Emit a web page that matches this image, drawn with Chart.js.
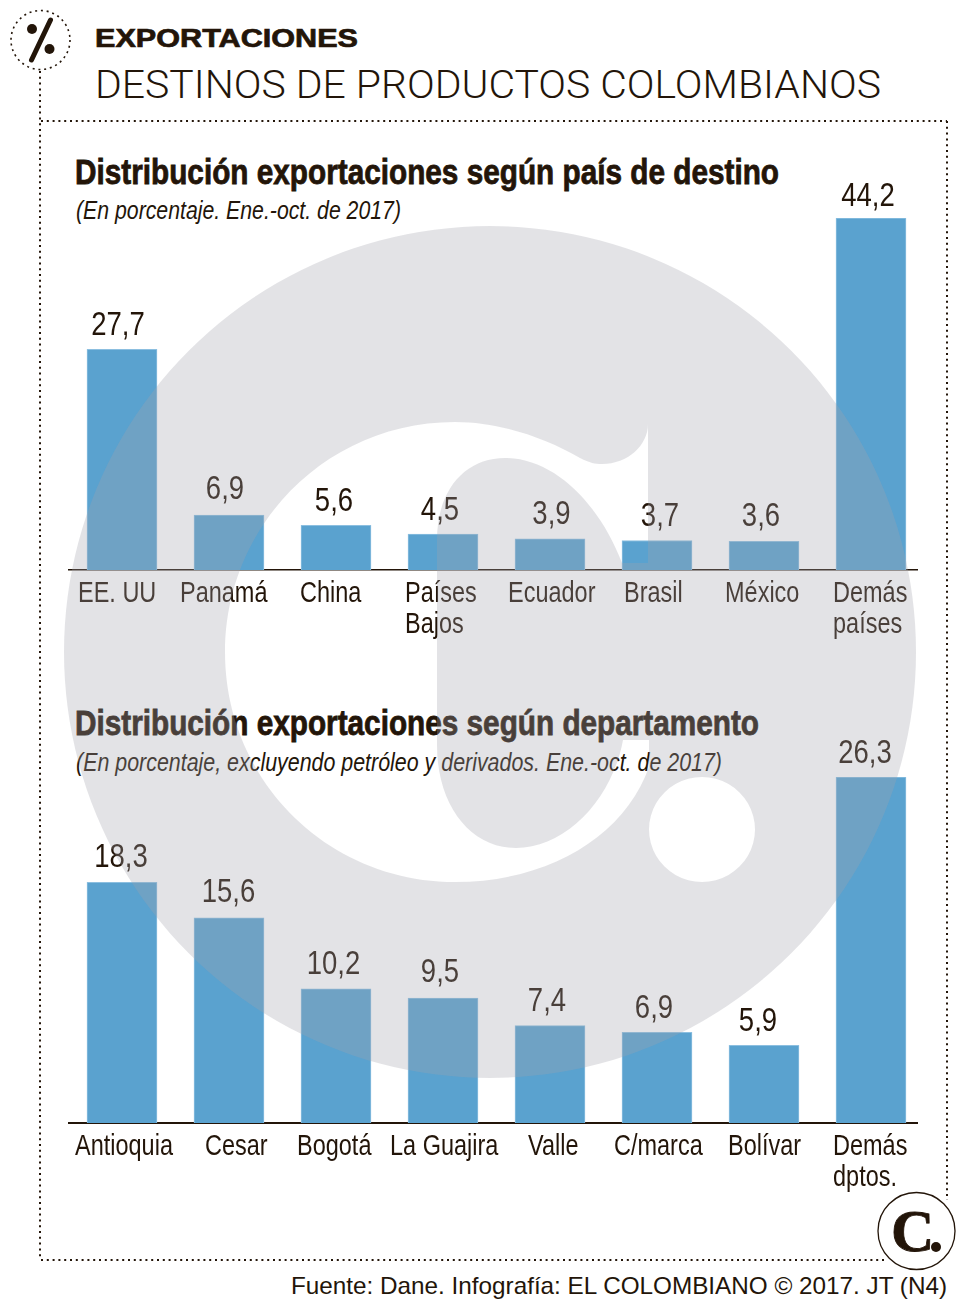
<!DOCTYPE html>
<html lang="es">
  <head>
    <meta charset="UTF-8" />
    <title>Exportaciones - Destinos de productos colombianos</title>
    <script src="https://cdn.jsdelivr.net/npm/chart.js"></script>
    <style>
      html, body { margin: 0; padding: 0; background: #fff; }
      #page { position: relative; width: 979px; height: 1305px; overflow: hidden; }
      #page svg { position: absolute; left: 0; top: 0; }
      #sello { pointer-events: none; }
      .caja { position: absolute; left: 68px; width: 850px; overflow: hidden; }
      .caja canvas { display: block; }
      #caja1 { top: 170px; height: 475px; }
      #caja2 { top: 729px; height: 469px; }
      text { fill: #231509; }
    </style>
  </head>
  <body>
    <div id="page">
      <svg id="marco" width="979" height="1305">
        <g fill="none" stroke="#231509" stroke-width="2" stroke-dasharray="2 3.8">
          <circle cx="40.5" cy="40" r="29.5" stroke-width="1.6" />
          <line x1="40" y1="71" x2="40" y2="1260" />
          <line x1="41" y1="121" x2="947" y2="121" />
          <line x1="947" y1="121" x2="947" y2="1200" />
          <line x1="41" y1="1260" x2="884" y2="1260" />
        </g>
        <line x1="50.5" y1="20" x2="31.5" y2="60" stroke="#231509" stroke-width="5" stroke-linecap="round" />
        <circle cx="32" cy="29" r="5" fill="#231509" />
        <circle cx="49.5" cy="49" r="5" fill="#231509" />

        <text x="95" y="47" font-family="Liberation Sans" font-weight="700" font-size="26" stroke="#231509" stroke-width="0.7" textLength="263" lengthAdjust="spacingAndGlyphs">EXPORTACIONES</text>
        <text x="95" y="98" font-family="Roboto" font-weight="300" font-size="38" textLength="786" lengthAdjust="spacingAndGlyphs">DESTINOS DE PRODUCTOS COLOMBIANOS</text>

        <text x="75" y="184" font-family="Liberation Sans" font-weight="700" font-size="35" stroke="#231509" stroke-width="0.8" textLength="704" lengthAdjust="spacingAndGlyphs">Distribución exportaciones según país de destino</text>
        <text x="76" y="219" font-family="Liberation Sans" font-style="italic" font-size="25" textLength="325" lengthAdjust="spacingAndGlyphs">(En porcentaje. Ene.-oct. de 2017)</text>

        <text x="75" y="735" font-family="Liberation Sans" font-weight="700" font-size="35" stroke="#231509" stroke-width="0.8" textLength="684" lengthAdjust="spacingAndGlyphs">Distribución exportaciones según departamento</text>
        <text x="76" y="771" font-family="Liberation Sans" font-style="italic" font-size="25" textLength="646" lengthAdjust="spacingAndGlyphs">(En porcentaje, excluyendo petróleo y derivados. Ene.-oct. de 2017)</text>

        <text x="291" y="1294" font-family="Liberation Sans" font-size="24" textLength="656" lengthAdjust="spacingAndGlyphs">Fuente: Dane. Infografía: EL COLOMBIANO © 2017. JT (N4)</text>

        <circle cx="916.5" cy="1231" r="38.5" fill="#fff" stroke="#231509" stroke-width="1.3" />
        <text x="891" y="1251" font-family="Liberation Serif" font-weight="700" font-size="60" stroke="#231509" stroke-width="0.8">C</text>
        <circle cx="936" cy="1247" r="5" fill="#231509" />
      </svg>

      <div class="caja" id="caja1"><canvas id="c1" width="857" height="475"></canvas></div>
      <div class="caja" id="caja2"><canvas id="c2" width="857" height="469"></canvas></div>

      <!-- marca de agua, va encima de todo -->
      <svg id="sello" width="979" height="1305">
        <path fill="rgb(161,161,173)" fill-opacity="0.3" fill-rule="evenodd"
          d="M490 226a426 426 0 1 0 0.01 0Z
             M648 424L648 563L622 563C600 505 555 458 505 458C465 458 437 490 437 540L437 745C437 805 470 848 516 848C565 848 612 800 623 740L649 740L649 767C625 835 550 882 455 882C327 882 225 780 225 652C225 525 327 422 455 422C500 422 545 438 580 458C590 463 595 464 602 464C628 464 648 445 648 424Z
             M702 777a53 52.5 0 1 0 0.01 0Z" />
      </svg>
    </div>

    <script>
      const paisLabels = ["EE. UU", "Panamá", "China", ["Países", "Bajos"], "Ecuador", "Brasil", "México", ["Demás", "países"]];
      const paisValues = [27.7, 6.9, 5.6, 4.5, 3.9, 3.7, 3.6, 44.2];

      const deptoLabels = ["Antioquia", "Cesar", "Bogotá", "La Guajira", "Valle", "C/marca", "Bolívar", ["Demás", "dptos."]];
      const deptoValues = [18.3, 15.6, 10.2, 9.5, 7.4, 6.9, 5.9, 26.3];

      // corrimientos a mano respecto al centro de cada barra
      const paisValorDx = [-4, -4, -2, -3, 1.5, 3, -3, -3];
      const paisValorDy = [0, -2, 0, 0, 0, 0, -1, 2];
      const paisTickDx = [-44, -49, -36, -38, -42, -33, -39, -38];
      const deptoValorDx = [-1, -0.5, -2.5, -3, -3, -3, -6, -6];
      const deptoValorDy = [-1, -1, 0, -2, 0, 0, 0, 0];
      const deptoTickDx = [-47, -24, -39, -53, -22, -43, -36, -38];

      // no hay fuente angosta instalada: se comprime Liberation Sans a lo ancho
      const ANGOSTO = 0.81;

      const etiquetas = {
        id: "etiquetas",
        beforeDraw(chart, args, opts) {
          const x = chart.scales.x;
          x.getLabelItems().forEach((item, i) => {
            if (item.movido) return;
            item.movido = true;
            item.options.textAlign = "left";
            item.options.translation[0] = (item.options.translation[0] + opts.tickDx[i]) / ANGOSTO;
          });
          if (!x.angosto) {
            x.angosto = true;
            // el recorte de chart.js no sirve con el contexto comprimido
            x._computeLabelArea = () => undefined;
            const drawLabels = x.drawLabels;
            x.drawLabels = function (area) {
              chart.ctx.save();
              chart.ctx.scale(ANGOSTO, 1);
              drawLabels.call(this, area);
              chart.ctx.restore();
            };
          }
        },
        afterDatasetsDraw(chart, args, opts) {
          const ctx = chart.ctx;
          chart.getDatasetMeta(0).data.forEach((bar, i) => {
            const txt = chart.data.datasets[0].data[i].toFixed(1).replace(".", ",");
            ctx.save();
            ctx.font = '34px "Liberation Sans"';
            ctx.fillStyle = "#231509";
            ctx.textAlign = "center";
            ctx.translate(bar.x + opts.valorDx[i], bar.y - 14.5 + opts.valorDy[i]);
            ctx.scale(ANGOSTO, 1);
            ctx.fillText(txt, 0, 0);
            ctx.restore();
          });
        },
      };

      function grafico(id, labels, values, valorDx, valorDy, tickDx, grosor) {
        return new Chart(document.getElementById(id), {
          type: "bar",
          data: {
            labels: labels,
            datasets: [
              {
                data: values,
                backgroundColor: "#5aa2cf",
                borderColor: "#8cbfe0",
                borderWidth: { left: 1, right: 1, top: 1, bottom: 0 },
                barThickness: 70,
              },
            ],
          },
          options: {
            responsive: false,
            animation: false,
            layout: { padding: { left: 0.5, right: 0.5, top: 48, bottom: 0 } },
            plugins: {
              legend: { display: false },
              tooltip: { enabled: false },
              etiquetas: { valorDx: valorDx, valorDy: valorDy, tickDx: tickDx },
            },
            scales: {
              x: {
                afterFit(scale) {
                  scale.height = 75;
                  scale.paddingLeft = 0;
                  scale.paddingRight = 0;
                },
                grid: { display: false, drawTicks: false },
                border: { display: true, color: "#231509", width: grosor },
                ticks: {
                  autoSkip: false,
                  maxRotation: 0,
                  padding: 8,
                  color: "#231509",
                  font: { family: "Liberation Sans", size: 29, lineHeight: "31px" },
                },
              },
              y: { display: false, min: 0, max: Math.max(...values) },
            },
          },
          plugins: [etiquetas],
        });
      }

      grafico("c1", paisLabels, paisValues, paisValorDx, paisValorDy, paisTickDx, 1.5);
      grafico("c2", deptoLabels, deptoValues, deptoValorDx, deptoValorDy, deptoTickDx, 2);
    </script>
  </body>
</html>
